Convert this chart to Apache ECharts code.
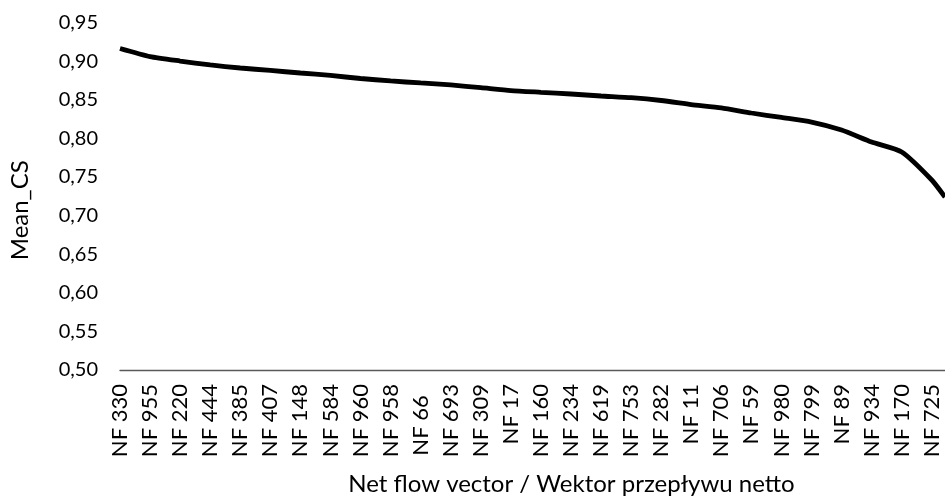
<!DOCTYPE html>
<html>
<head>
    <meta charset="utf-8">
    <title>Mean_CS</title>
    <script src="https://cdn.jsdelivr.net/npm/echarts@6/dist/echarts.min.js"></script>
</head>
<body style="margin:0">
    <div id="main" style="width:945px;height:501px;"></div>
    <script type="text/javascript">
        // labelled vectors along the x axis, sorted by Mean_CS
        var categories = [
            'NF 330', 'NF 955', 'NF 220', 'NF 444', 'NF 385', 'NF 407', 'NF 148', 'NF 584',
            'NF 960', 'NF 958', 'NF 66  ', 'NF 693', 'NF 309', 'NF 17', 'NF 160', 'NF 234',
            'NF 619', 'NF 753', 'NF 282', 'NF 11', 'NF 706', 'NF 59', 'NF 980', 'NF 799',
            'NF 89', 'NF 934', 'NF 170', 'NF 725'
        ];
        var meanCS = [
            0.9165, 0.9060, 0.9002, 0.8951, 0.8912, 0.8880, 0.8847, 0.8815,
            0.8776, 0.8744, 0.8718, 0.8692, 0.8657, 0.8620, 0.8597, 0.8575,
            0.8549, 0.8527, 0.8491, 0.8439, 0.8394, 0.8329, 0.8271, 0.8212,
            0.8109, 0.7953, 0.7824, 0.7461
        ];
        // the curve goes on past the right edge of the picture, this is where it leaves
        var edgeIndex = 27.44;
        var edgeValue = 0.724;

        var yMin = 0.5, yMax = 0.95, yStep = 0.05;

        var font = 'Lato';

        var myChart = echarts.init(document.getElementById('main'));

        var points = meanCS.map(function (v, i) { return [i, v]; });
        points.push([edgeIndex, edgeValue]);

        var option = {
            animation: false,
            backgroundColor: '#fff',
            grid: { left: 118, right: 0, top: 22.6, bottom: 131 },
            xAxis: {
                type: 'value',
                min: 0,
                max: edgeIndex,
                interval: 1,
                name: 'Net flow vector / Wektor przepływu netto',
                nameLocation: 'middle',
                nameGap: 102,
                nameTextStyle: { fontFamily: font, fontSize: 24, color: '#000', padding: [0, 0, 0, 78] },
                axisLine: { show: true, lineStyle: { color: '#595959', width: 1.3 } },
                axisTick: { show: false },
                splitLine: { show: false },
                axisLabel: {
                    rotate: 90,
                    margin: 14,
                    fontFamily: font,
                    fontSize: 22,
                    color: '#000',
                    showMaxLabel: false,
                    formatter: function (v) {
                        return Number.isInteger(v) && categories[v] ? categories[v] : '';
                    }
                }
            },
            yAxis: {
                type: 'value',
                min: yMin,
                max: yMax,
                interval: yStep,
                name: 'Mean_CS',
                nameLocation: 'middle',
                nameGap: 88,
                nameTextStyle: { fontFamily: font, fontSize: 24, color: '#000', padding: [0, 28, 0, 0] },
                axisLine: { show: false },
                axisTick: { show: false },
                splitLine: { show: false },
                axisLabel: {
                    margin: 22,
                    fontFamily: font,
                    fontSize: 20,
                    color: '#000',
                    formatter: function (v) {
                        return v.toFixed(2).replace('.', ',');
                    }
                }
            },
            series: [{
                type: 'line',
                data: points,
                showSymbol: false,
                smooth: 0.2,
                lineStyle: { color: '#000', width: 4.8 }
            }]
        };

        myChart.setOption(option);
    </script>
</body>
</html>
